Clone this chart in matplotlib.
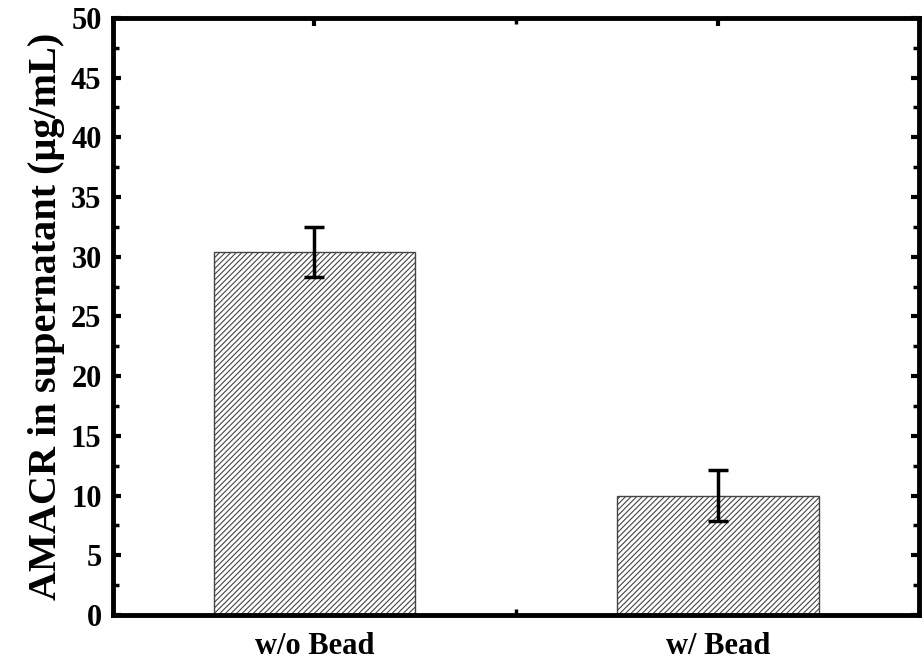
import matplotlib
matplotlib.use('Agg')
import matplotlib.pyplot as plt
from matplotlib.ticker import MultipleLocator

# Data
categories = ['w/o Bead', 'w/ Bead']
values = [30.4, 10.0]
errors = [2.1, 2.1]

plt.rcParams['font.family'] = ['Liberation Serif', 'DejaVu Serif']
plt.rcParams['font.weight'] = 'bold'
plt.rcParams['hatch.linewidth'] = 0.8
plt.rcParams['hatch.color'] = '#333333'

fig, ax = plt.subplots(figsize=(9.24, 6.62), dpi=100)
fig.subplots_adjust(left=0.122, right=0.995, top=0.973, bottom=0.071)

x = range(len(categories))
ax.bar(x, values, width=0.5, color='white', edgecolor='#444444', linewidth=1.0,
       hatch='//////', zorder=2)
ax.errorbar(x, values, yerr=errors, fmt='none', ecolor='black', elinewidth=2.5,
            capsize=7, capthick=2.5, zorder=3)

ax.set_xlim(-0.5, 1.5)
ax.set_ylim(0, 50)
ax.set_xticks(list(x))
ax.set_xticklabels(categories)
ax.yaxis.set_major_locator(MultipleLocator(5))
ax.yaxis.set_minor_locator(MultipleLocator(2.5))
ax.xaxis.set_minor_locator(MultipleLocator(0.5))

for s in ax.spines.values():
    s.set_linewidth(3.5)

ax.tick_params(axis='both', which='major', direction='in', length=6, width=3,
               top=True, right=True, labelsize=22, pad=8)
ax.tick_params(axis='x', which='major', pad=12)
ax.tick_params(axis='both', which='minor', direction='in', length=4, width=2.5,
               top=True, right=True)

ax.set_ylabel('AMACR in supernatant (\u03bcg/mL)', fontsize=29, fontweight='bold', labelpad=4)

plt.savefig('out.png', dpi=100)
